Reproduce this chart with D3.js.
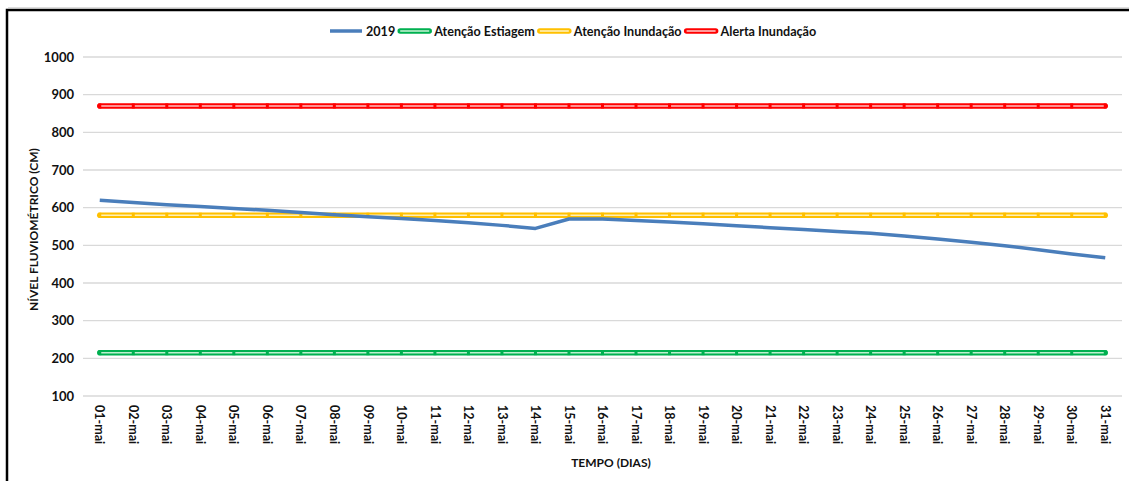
<!DOCTYPE html>
<html>
<head>
<meta charset="utf-8">
<script src="https://cdn.jsdelivr.net/npm/d3@7"></script>
<style>
  body { margin: 0; background: #fff; }
  text { font-family: Lato, "Open Sans", sans-serif; font-weight: bold; fill: #111; }
</style>
</head>
<body>
<div id="chart"></div>
<script>
var days = ["01-mai","02-mai","03-mai","04-mai","05-mai","06-mai","07-mai","08-mai","09-mai","10-mai",
            "11-mai","12-mai","13-mai","14-mai","15-mai","16-mai","17-mai","18-mai","19-mai","20-mai",
            "21-mai","22-mai","23-mai","24-mai","25-mai","26-mai","27-mai","28-mai","29-mai","30-mai","31-mai"];
var nivel2019 = [620,614,608,603,598,593,587,581,576,571,566,560,553,545,570,570,566,562,557,552,
                 547,542,537,532,525,517,508,499,488,477,467];
var atencaoEstiagem = 215;
var atencaoInundacao = 580;
var alertaInundacao = 870;
var yTicks = [100,200,300,400,500,600,700,800,900,1000];

var width = 1129, height = 481;
var plot = {left: 83, right: 1122, top: 57, bottom: 396};

var svg = d3.select("#chart").append("svg")
    .attr("width", width)
    .attr("height", height);

// frame
svg.append("rect")
    .attr("x", 7).attr("y", 10)
    .attr("width", width + 20).attr("height", height + 20)
    .attr("fill", "none").attr("stroke", "#000").attr("stroke-width", 2.5);
svg.append("line")
    .attr("x1", 8).attr("x2", width).attr("y1", 8).attr("y2", 8)
    .attr("stroke", "#bbb").attr("stroke-width", 1);

var x = d3.scaleBand().domain(days).range([plot.left, plot.right]).padding(0);
var y = d3.scaleLinear().domain([100, 1000]).range([plot.bottom, plot.top]);
var cx = function(d) { return x(d) + x.bandwidth() / 2; };

// gridlines
svg.append("g").selectAll("line")
    .data(yTicks)
  .enter().append("line")
    .attr("x1", plot.left).attr("x2", plot.right)
    .attr("y1", function(d) { return y(d); })
    .attr("y2", function(d) { return y(d); })
    .attr("stroke", "#d9d9d9").attr("stroke-width", 1.3);

// y axis labels
var yAxis = svg.append("g")
    .attr("transform", "translate(" + plot.left + ",0)")
    .call(d3.axisLeft(y).tickValues(yTicks).tickFormat(d3.format("d")).tickSize(0).tickPadding(9));
yAxis.select(".domain").remove();
yAxis.selectAll("text")
    .style("font-family", "Lato, sans-serif").style("font-weight", "bold")
    .style("font-size", "13px").attr("fill", "#111");

// x axis labels
var xAxis = svg.append("g")
    .attr("transform", "translate(0," + plot.bottom + ")")
    .call(d3.axisBottom(x).tickSize(0).tickPadding(0));
xAxis.select(".domain").remove();
xAxis.selectAll("text")
    .style("font-family", "Lato, sans-serif").style("font-weight", "bold")
    .style("font-size", "12.5px").attr("fill", "#111")
    .attr("text-anchor", "start")
    .attr("transform", "rotate(90)")
    .attr("x", 9).attr("y", 0).attr("dy", "0.35em");

// axis titles
svg.append("text")
    .attr("transform", "translate(38," + ((plot.top + plot.bottom) / 2 + 3) + ") rotate(-90)")
    .attr("text-anchor", "middle")
    .style("font-size", "12px")
    .text("NÍVEL FLUVIOMÉTRICO (CM)");
svg.append("text")
    .attr("x", 611).attr("y", 467)
    .attr("text-anchor", "middle")
    .style("font-size", "12px")
    .text("TEMPO (DIAS)");

// threshold series (compound lines with markers)
var thresholds = [
    {name: "Atenção Estiagem", value: atencaoEstiagem, color: "#00b050", inner: "#bdf0cf"},
    {name: "Atenção Inundação", value: atencaoInundacao, color: "#ffc000", inner: "#fff0b8"},
    {name: "Alerta Inundação", value: alertaInundacao, color: "#ff0000", inner: "#ffc0c0"}
];
var line = d3.line().x(function(d) { return cx(d.day); }).y(function(d) { return y(d.val); });

thresholds.forEach(function(t) {
    var pts = days.map(function(d) { return {day: d, val: t.value}; });
    var g = svg.append("g");
    g.append("path").datum(pts).attr("d", line)
        .attr("fill", "none").attr("stroke", t.color).attr("stroke-width", 5.5)
        .attr("stroke-linecap", "round");
    g.append("path").datum(pts).attr("d", line)
        .attr("fill", "none").attr("stroke", t.inner).attr("stroke-width", 1.6);
    g.selectAll("rect").data(pts).enter().append("rect")
        .attr("x", function(d) { return cx(d.day) - 1.5; })
        .attr("y", function(d) { return y(d.val) - 2.5; })
        .attr("width", 3).attr("height", 5)
        .attr("fill", t.color);
});

// 2019 series
var pts2019 = days.map(function(d, i) { return {day: d, val: nivel2019[i]}; });
svg.append("path").datum(pts2019).attr("d", line)
    .attr("fill", "none").attr("stroke", "#4a7ebb").attr("stroke-width", 3.5)
    .attr("stroke-linejoin", "round");

// legend
var legendItems = [{name: "2019", color: "#4a7ebb", inner: null}].concat(thresholds);
var legend = svg.append("g").attr("transform", "translate(0,31)");
var lx = 330;
legendItems.forEach(function(item) {
    var g = legend.append("g").attr("transform", "translate(" + lx + ",0)");
    if (item.inner) {
        g.append("line").attr("x1", 2).attr("x2", 31).attr("y1", 0).attr("y2", 0)
            .attr("stroke", item.color).attr("stroke-width", 5.5).attr("stroke-linecap", "round");
        g.append("line").attr("x1", 2).attr("x2", 31).attr("y1", 0).attr("y2", 0)
            .attr("stroke", item.inner).attr("stroke-width", 1.6);
    } else {
        g.append("line").attr("x1", 0).attr("x2", 32).attr("y1", 0).attr("y2", 0)
            .attr("stroke", item.color).attr("stroke-width", 3.5);
    }
    var t = g.append("text").attr("x", 36).attr("y", 4.5)
        .style("font-size", "12.6px").text(item.name);
    lx += 36 + t.node().getComputedTextLength() + 3;
});
</script>
</body>
</html>
